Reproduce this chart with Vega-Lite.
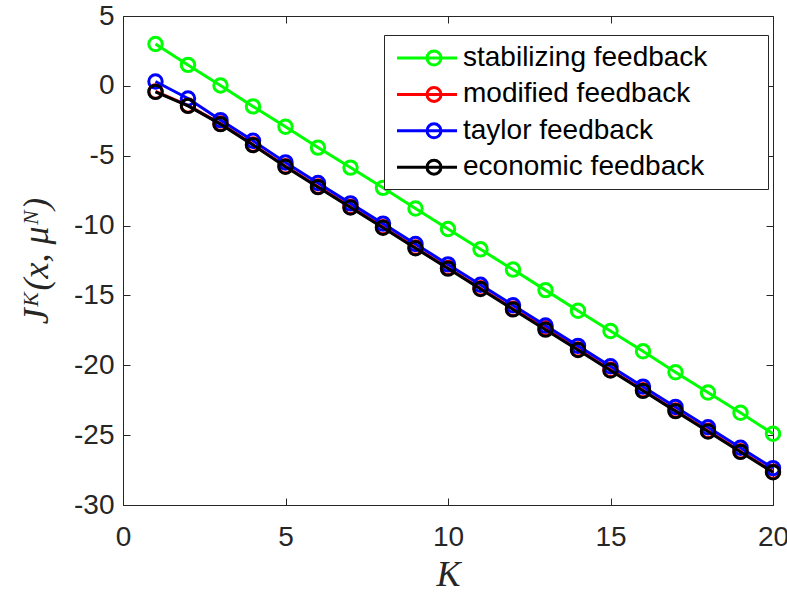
{
  "$schema": "https://vega.github.io/schema/vega-lite/v6.json",
  "autosize": "none",
  "width": 650,
  "height": 489,
  "padding": {"left": 123, "top": 16, "right": 14, "bottom": 87},
  "background": "white",
  "config": {
    "view": {"stroke": null},
    "axis": {
      "grid": false,
      "domainColor": "#262626",
      "domainWidth": 1,
      "tickColor": "#262626",
      "tickSize": -7,
      "labelFont": "Liberation Sans",
      "labelFontSize": 28,
      "labelColor": "#262626",
      "labelFlush": false,
      "labelExpr": "replace(datum.label, '−', '-')",
      "titleFont": "Liberation Serif",
      "titleFontStyle": "italic",
      "titleFontWeight": "normal",
      "titleFontSize": 36,
      "titleColor": "#262626"
    }
  },
  "data": {
    "values": [
      {"K": 1, "J": 3.0, "series": "stabilizing feedback"},
      {"K": 2, "J": 1.5, "series": "stabilizing feedback"},
      {"K": 3, "J": 0.03, "series": "stabilizing feedback"},
      {"K": 4, "J": -1.47, "series": "stabilizing feedback"},
      {"K": 5, "J": -2.93, "series": "stabilizing feedback"},
      {"K": 6, "J": -4.42, "series": "stabilizing feedback"},
      {"K": 7, "J": -5.85, "series": "stabilizing feedback"},
      {"K": 8, "J": -7.3, "series": "stabilizing feedback"},
      {"K": 9, "J": -8.78, "series": "stabilizing feedback"},
      {"K": 10, "J": -10.25, "series": "stabilizing feedback"},
      {"K": 11, "J": -11.7, "series": "stabilizing feedback"},
      {"K": 12, "J": -13.15, "series": "stabilizing feedback"},
      {"K": 13, "J": -14.62, "series": "stabilizing feedback"},
      {"K": 14, "J": -16.1, "series": "stabilizing feedback"},
      {"K": 15, "J": -17.55, "series": "stabilizing feedback"},
      {"K": 16, "J": -19.0, "series": "stabilizing feedback"},
      {"K": 17, "J": -20.5, "series": "stabilizing feedback"},
      {"K": 18, "J": -21.95, "series": "stabilizing feedback"},
      {"K": 19, "J": -23.4, "series": "stabilizing feedback"},
      {"K": 20, "J": -24.9, "series": "stabilizing feedback"},
      {"K": 1, "J": -0.4, "series": "modified feedback"},
      {"K": 2, "J": -1.4, "series": "modified feedback"},
      {"K": 3, "J": -2.7, "series": "modified feedback"},
      {"K": 4, "J": -4.2, "series": "modified feedback"},
      {"K": 5, "J": -5.75, "series": "modified feedback"},
      {"K": 6, "J": -7.2, "series": "modified feedback"},
      {"K": 7, "J": -8.66, "series": "modified feedback"},
      {"K": 8, "J": -10.11, "series": "modified feedback"},
      {"K": 9, "J": -11.57, "series": "modified feedback"},
      {"K": 10, "J": -13.03, "series": "modified feedback"},
      {"K": 11, "J": -14.49, "series": "modified feedback"},
      {"K": 12, "J": -15.95, "series": "modified feedback"},
      {"K": 13, "J": -17.35, "series": "modified feedback"},
      {"K": 14, "J": -18.86, "series": "modified feedback"},
      {"K": 15, "J": -20.32, "series": "modified feedback"},
      {"K": 16, "J": -21.78, "series": "modified feedback"},
      {"K": 17, "J": -23.23, "series": "modified feedback"},
      {"K": 18, "J": -24.69, "series": "modified feedback"},
      {"K": 19, "J": -26.15, "series": "modified feedback"},
      {"K": 20, "J": -27.61, "series": "modified feedback"},
      {"K": 1, "J": 0.31, "series": "taylor feedback"},
      {"K": 2, "J": -0.9, "series": "taylor feedback"},
      {"K": 3, "J": -2.45, "series": "taylor feedback"},
      {"K": 4, "J": -3.93, "series": "taylor feedback"},
      {"K": 5, "J": -5.48, "series": "taylor feedback"},
      {"K": 6, "J": -6.95, "series": "taylor feedback"},
      {"K": 7, "J": -8.41, "series": "taylor feedback"},
      {"K": 8, "J": -9.86, "series": "taylor feedback"},
      {"K": 9, "J": -11.32, "series": "taylor feedback"},
      {"K": 10, "J": -12.78, "series": "taylor feedback"},
      {"K": 11, "J": -14.24, "series": "taylor feedback"},
      {"K": 12, "J": -15.7, "series": "taylor feedback"},
      {"K": 13, "J": -17.15, "series": "taylor feedback"},
      {"K": 14, "J": -18.61, "series": "taylor feedback"},
      {"K": 15, "J": -20.07, "series": "taylor feedback"},
      {"K": 16, "J": -21.53, "series": "taylor feedback"},
      {"K": 17, "J": -22.98, "series": "taylor feedback"},
      {"K": 18, "J": -24.44, "series": "taylor feedback"},
      {"K": 19, "J": -25.9, "series": "taylor feedback"},
      {"K": 20, "J": -27.36, "series": "taylor feedback"},
      {"K": 1, "J": -0.43, "series": "economic feedback"},
      {"K": 2, "J": -1.43, "series": "economic feedback"},
      {"K": 3, "J": -2.74, "series": "economic feedback"},
      {"K": 4, "J": -4.24, "series": "economic feedback"},
      {"K": 5, "J": -5.79, "series": "economic feedback"},
      {"K": 6, "J": -7.25, "series": "economic feedback"},
      {"K": 7, "J": -8.71, "series": "economic feedback"},
      {"K": 8, "J": -10.16, "series": "economic feedback"},
      {"K": 9, "J": -11.62, "series": "economic feedback"},
      {"K": 10, "J": -13.08, "series": "economic feedback"},
      {"K": 11, "J": -14.54, "series": "economic feedback"},
      {"K": 12, "J": -16.0, "series": "economic feedback"},
      {"K": 13, "J": -17.45, "series": "economic feedback"},
      {"K": 14, "J": -18.91, "series": "economic feedback"},
      {"K": 15, "J": -20.37, "series": "economic feedback"},
      {"K": 16, "J": -21.83, "series": "economic feedback"},
      {"K": 17, "J": -23.28, "series": "economic feedback"},
      {"K": 18, "J": -24.74, "series": "economic feedback"},
      {"K": 19, "J": -26.2, "series": "economic feedback"},
      {"K": 20, "J": -27.66, "series": "economic feedback"}
    ]
  },
  "encoding": {
    "color": {
      "field": "series",
      "type": "nominal",
      "scale": {
        "domain": ["stabilizing feedback", "modified feedback", "taylor feedback", "economic feedback"],
        "range": ["#00ff00", "#ff0000", "#0000ff", "#000000"]
      },
      "legend": {
        "orient": "none",
        "legendX": 261,
        "legendY": 19,
        "title": null,
        "direction": "vertical",
        "padding": 7.5,
        "strokeColor": "#262626",
        "fillColor": "white",
        "symbolType": "M-0.714,0 L3.572,0 M2.429,0 A0.5,0.5 0 1,1 1.429,0 A0.5,0.5 0 1,1 2.429,0 M24.81,0",
        "symbolSize": 784,
        "symbolStrokeWidth": 3,
        "symbolFillColor": "transparent",
        "labelFont": "Liberation Sans",
        "labelFontSize": 28,
        "labelColor": "black",
        "labelOffset": 40.5,
        "labelLimit": 400,
        "rowPadding": 6.4,
        "encode": {"symbols": {"update": {"fill": {"value": "transparent"}, "strokeWidth": {"value": 3}}}}
      }
    }
  },
  "layer": [
    {
      "transform": [{"filter": "datum.series === 'stabilizing feedback'"}],
      "mark": {"type": "line", "strokeWidth": 3, "point": {"filled": false, "size": 180, "strokeWidth": 3}},
      "encoding": {
        "x": {"field": "K", "type": "quantitative", "scale": {"domain": [0, 20], "nice": false, "zero": false},
              "axis": {"orient": "bottom", "values": [0, 5, 10, 15, 20], "title": "K", "labelPadding": 25, "titlePadding": 6}},
        "y": {"field": "J", "type": "quantitative", "scale": {"domain": [-30, 5], "nice": false, "zero": false},
              "axis": {"orient": "left", "values": [-30, -25, -20, -15, -10, -5, 0, 5], "title": "Jᴷ(x, μᴺ)", "labelPadding": 16, "titlePadding": 18}}
      }
    },
    {
      "transform": [{"filter": "datum.series === 'modified feedback'"}],
      "mark": {"type": "line", "strokeWidth": 3, "point": {"filled": false, "size": 180, "strokeWidth": 3}},
      "encoding": {
        "x": {"field": "K", "type": "quantitative", "scale": {"domain": [0, 20], "nice": false, "zero": false}, "axis": null},
        "y": {"field": "J", "type": "quantitative", "scale": {"domain": [-30, 5], "nice": false, "zero": false}, "axis": null}
      }
    },
    {
      "transform": [{"filter": "datum.series === 'taylor feedback'"}],
      "mark": {"type": "line", "strokeWidth": 3, "point": {"filled": false, "size": 180, "strokeWidth": 3}},
      "encoding": {
        "x": {"field": "K", "type": "quantitative", "scale": {"domain": [0, 20], "nice": false, "zero": false}, "axis": null},
        "y": {"field": "J", "type": "quantitative", "scale": {"domain": [-30, 5], "nice": false, "zero": false}, "axis": null}
      }
    },
    {
      "transform": [{"filter": "datum.series === 'economic feedback'"}],
      "mark": {"type": "line", "strokeWidth": 3, "point": {"filled": false, "size": 180, "strokeWidth": 3}},
      "encoding": {
        "x": {"field": "K", "type": "quantitative", "scale": {"domain": [0, 20], "nice": false, "zero": false},
              "axis": {"orient": "top", "values": [0, 5, 10, 15, 20], "labels": false, "title": null}},
        "y": {"field": "J", "type": "quantitative", "scale": {"domain": [-30, 5], "nice": false, "zero": false},
              "axis": {"orient": "right", "values": [-30, -25, -20, -15, -10, -5, 0, 5], "labels": false, "title": null}}
      }
    }
  ],
  "resolve": {"axis": {"x": "independent", "y": "independent"}}
}
